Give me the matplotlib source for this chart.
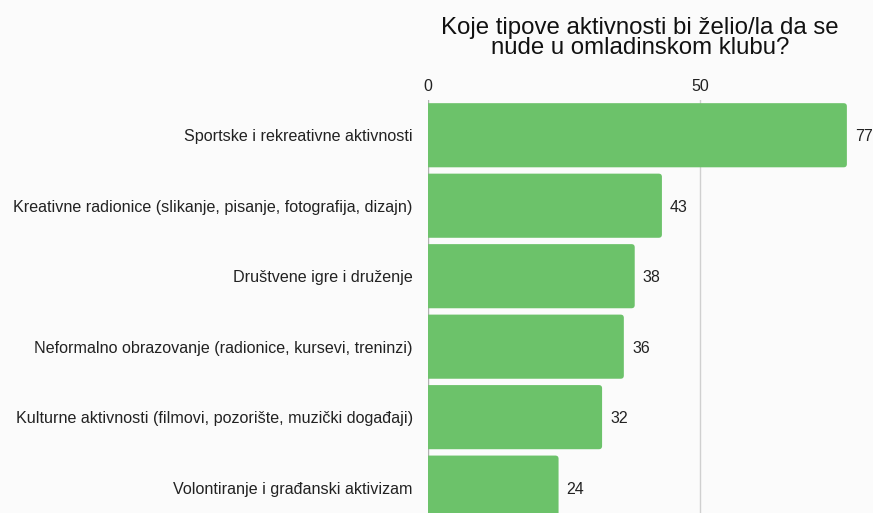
import matplotlib.pyplot as plt
from matplotlib.patches import FancyBboxPatch

categories = [
    "Sportske i rekreativne aktivnosti",
    "Kreativne radionice (slikanje, pisanje, fotografija, dizajn)",
    "Društvene igre i druženje",
    "Neformalno obrazovanje (radionice, kursevi, treninzi)",
    "Kulturne aktivnosti (filmovi, pozorište, muzički događaji)",
    "Volontiranje i građanski aktivizam",
]
values = [77, 43, 38, 36, 32, 24]
ticks = [0, 50]
title = "Koje tipove aktivnosti bi želio/la da se\nnude u omladinskom klubu?"

bg = "#fbfbfb"
green = "#6cc26a"
plt.rcParams['font.family'] = ['Liberation Sans', 'DejaVu Sans']

fig = plt.figure(figsize=(8.73, 5.13), dpi=100, facecolor=bg)
ax = fig.add_axes([428 / 873, 0, 445 / 873, 413 / 513])
ax.set_facecolor(bg)

xmax = 445 / 5.44
ax.set_xlim(0, xmax)
ax.set_ylim(5.36, -0.5)

h = 0.91
# rounded bars, value label after each
for i, v in enumerate(values):
    p = FancyBboxPatch((-0.7, i - h / 2), v + 0.7, h,
                       boxstyle="round,pad=0,rounding_size=0.6",
                       mutation_aspect=0.045 / 0.6,
                       facecolor=green, edgecolor='none', zorder=3)
    ax.add_patch(p)
    ax.text(v + 1.5, i + 0.02, str(v), va='center', ha='left', fontsize=11.5,
            color='#222222', zorder=4)

for t in ticks:
    ax.axvline(t, color='#b0b0b0' if t == 0 else '#d0d0d0', lw=1, zorder=1)

ax.set_yticks(range(len(categories)))
ax.set_yticklabels(categories, fontsize=11.6, color='#222222')
ax.tick_params(axis='y', length=0, pad=11)
ax.xaxis.tick_top()
ax.set_xticks(ticks)
ax.set_xticklabels([str(t) for t in ticks], fontsize=11.5, color='#222222')
ax.tick_params(axis='x', length=0, pad=4)
for s in ax.spines.values():
    s.set_visible(False)

fig.text(640 / 873, 1 - 38 / 513, title, ha='center', va='center',
         fontsize=17.3, color='#111111', linespacing=0.92)

fig.savefig("out.png", dpi=100, facecolor=bg)
